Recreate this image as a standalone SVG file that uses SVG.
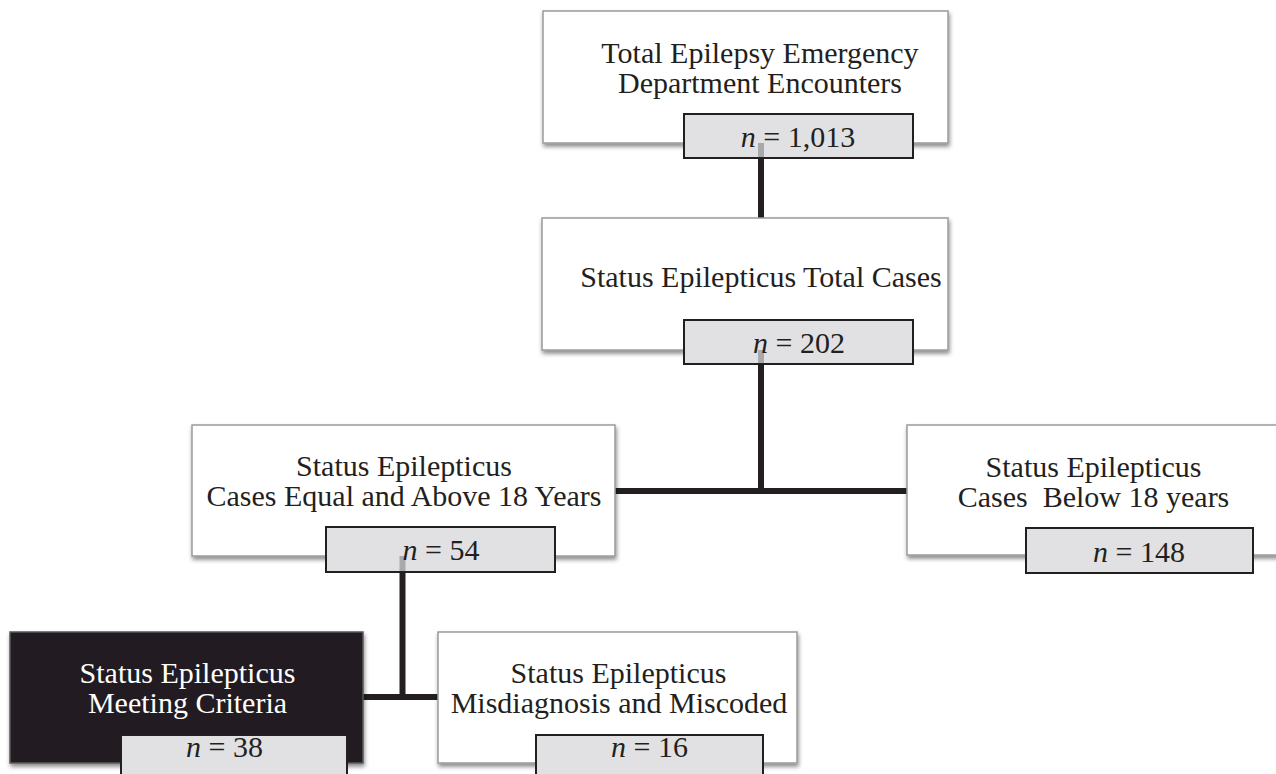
<svg xmlns="http://www.w3.org/2000/svg" width="1276" height="774" viewBox="0 0 1276 774">
  <defs>
    <filter id="shadow" x="-5%" y="-10%" width="110%" height="130%">
      <feDropShadow dx="1" dy="3" stdDeviation="2" flood-color="#000000" flood-opacity="0.45"/>
    </filter>
  </defs>
  <style>
    .box { fill: #ffffff; stroke: #9a9a9a; stroke-width: 1.5; filter: url(#shadow); }
    .dark { fill: #231f20; stroke: #5a5a5a; stroke-width: 1.5; filter: url(#shadow); }
    .nbox { fill: #e1e1e3; stroke: #231f20; stroke-width: 2; }
    .t { font-family: "Liberation Serif", "Times New Roman", serif; font-size: 30px; fill: #231f20; text-anchor: middle; white-space: pre; }
    .w { fill: #ffffff; }
    .conn { stroke: #231f20; stroke-width: 6; fill: none; }
    .ghost { stroke: #a9a9ab; stroke-width: 6; fill: none; }
  </style>

  <g id="connectors">
    <line class="conn" x1="761" y1="158" x2="761" y2="218"/>
    <line class="conn" x1="761" y1="364" x2="761" y2="491"/>
    <line class="conn" x1="613" y1="491" x2="907" y2="491"/>
    <line class="conn" x1="402.5" y1="572" x2="402.5" y2="697"/>
    <line class="conn" x1="362" y1="697" x2="438" y2="697"/>
  </g>

  <g id="node-total-encounters">
    <rect class="box" x="543" y="11" width="405" height="132"/>
    <text class="t" x="760" y="63">Total Epilepsy Emergency</text>
    <text class="t" x="760" y="93">Department Encounters</text>
    <rect class="nbox" x="684" y="114" width="229" height="44"/>
    <line class="ghost" x1="761" y1="143" x2="761" y2="157"/>
    <text class="t" x="798" y="147"><tspan font-style="italic">n</tspan> = 1,013</text>
  </g>

  <g id="node-se-total">
    <rect class="box" x="542" y="218" width="406" height="132"/>
    <text class="t" x="761" y="287">Status Epilepticus Total Cases</text>
    <rect class="nbox" x="684" y="320" width="229" height="44"/>
    <line class="ghost" x1="761" y1="350" x2="761" y2="363"/>
    <text class="t" x="799" y="353"><tspan font-style="italic">n</tspan> = 202</text>
  </g>

  <g id="node-adults">
    <rect class="box" x="192" y="425" width="423" height="131"/>
    <text class="t" x="404" y="476">Status Epilepticus</text>
    <text class="t" x="404" y="506">Cases Equal and Above 18 Years</text>
    <rect class="nbox" x="326" y="527" width="229" height="45"/>
    <line class="ghost" x1="402.5" y1="556" x2="402.5" y2="571"/>
    <text class="t" x="441" y="560"><tspan font-style="italic">n</tspan> = 54</text>
  </g>

  <g id="node-children">
    <rect class="box" x="907" y="425" width="390" height="130"/>
    <text class="t" x="1093.5" y="477">Status Epilepticus</text>
    <text class="t" x="1093.5" y="507">Cases  Below 18 years</text>
    <rect class="nbox" x="1026" y="528" width="227" height="45"/>
    <text class="t" x="1139" y="562"><tspan font-style="italic">n</tspan> = 148</text>
  </g>

  <g id="node-meeting-criteria">
    <rect class="dark" x="10" y="632" width="353" height="131"/>
    <text class="t w" x="187.5" y="683">Status Epilepticus</text>
    <text class="t w" x="187.5" y="713">Meeting Criteria</text>
    <rect class="nbox" x="121" y="735" width="226" height="60"/>
    <text class="t" x="224.5" y="757"><tspan font-style="italic">n</tspan> = 38</text>
  </g>

  <g id="node-misdiagnosis">
    <rect class="box" x="438" y="632" width="359" height="131"/>
    <text class="t" x="618.5" y="683">Status Epilepticus</text>
    <text class="t" x="619" y="713">Misdiagnosis and Miscoded</text>
    <rect class="nbox" x="536" y="735" width="227" height="60"/>
    <text class="t" x="649.5" y="757"><tspan font-style="italic">n</tspan> = 16</text>
  </g>
</svg>
